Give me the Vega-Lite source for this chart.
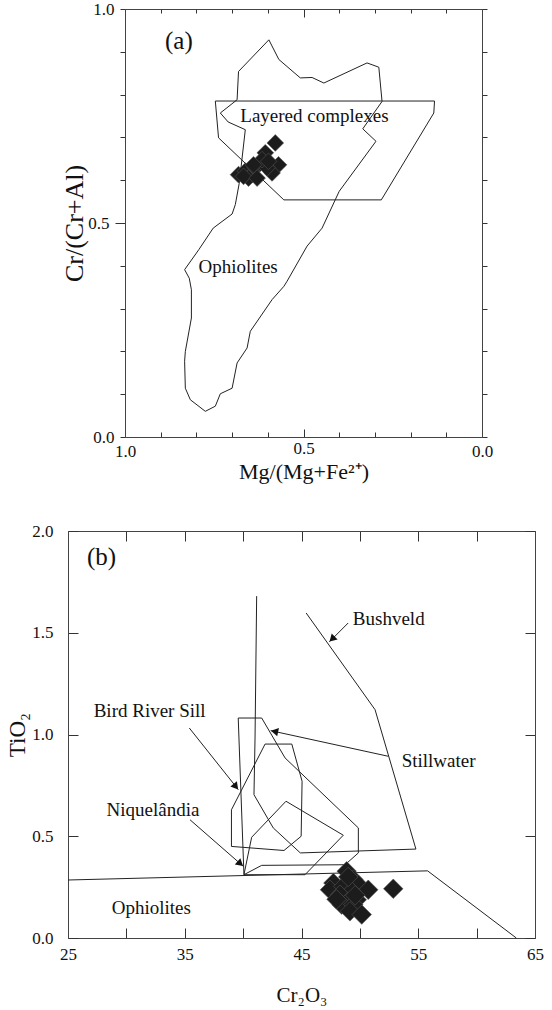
{
  "$schema": "https://vega.github.io/schema/vega-lite/v6.json",
  "background": "white",
  "padding": {"left": 6, "top": 0, "right": 5, "bottom": 5},
  "config": {
    "view": {"stroke": null},
    "font": "Liberation Serif",
    "axis": {
      "grid": false,
      "domainColor": "#444",
      "tickColor": "#333",
      "labelColor": "#111",
      "titleColor": "#111",
      "labelFont": "Liberation Serif",
      "titleFont": "Liberation Serif",
      "labelFontSize": 17,
      "titleFontSize": 20,
      "titleFontWeight": "normal",
      "labelFlush": false,
      "labelOverlap": false
    }
  },
  "datasets": {
    "a_fields": [
      {"field": "oph", "order": 1, "x": 0.597, "y": 0.928},
      {"field": "oph", "order": 2, "x": 0.569, "y": 0.882},
      {"field": "oph", "order": 3, "x": 0.509, "y": 0.839},
      {"field": "oph", "order": 4, "x": 0.476, "y": 0.840},
      {"field": "oph", "order": 5, "x": 0.443, "y": 0.827},
      {"field": "oph", "order": 6, "x": 0.322, "y": 0.874},
      {"field": "oph", "order": 7, "x": 0.289, "y": 0.864},
      {"field": "oph", "order": 8, "x": 0.280, "y": 0.784},
      {"field": "oph", "order": 9, "x": 0.334, "y": 0.720},
      {"field": "oph", "order": 10, "x": 0.297, "y": 0.691},
      {"field": "oph", "order": 11, "x": 0.400, "y": 0.574},
      {"field": "oph", "order": 12, "x": 0.448, "y": 0.488},
      {"field": "oph", "order": 13, "x": 0.490, "y": 0.446},
      {"field": "oph", "order": 14, "x": 0.546, "y": 0.364},
      {"field": "oph", "order": 15, "x": 0.555, "y": 0.352},
      {"field": "oph", "order": 16, "x": 0.588, "y": 0.321},
      {"field": "oph", "order": 17, "x": 0.649, "y": 0.247},
      {"field": "oph", "order": 18, "x": 0.658, "y": 0.208},
      {"field": "oph", "order": 19, "x": 0.686, "y": 0.173},
      {"field": "oph", "order": 20, "x": 0.700, "y": 0.114},
      {"field": "oph", "order": 21, "x": 0.733, "y": 0.101},
      {"field": "oph", "order": 22, "x": 0.747, "y": 0.072},
      {"field": "oph", "order": 23, "x": 0.775, "y": 0.060},
      {"field": "oph", "order": 24, "x": 0.817, "y": 0.087},
      {"field": "oph", "order": 25, "x": 0.831, "y": 0.114},
      {"field": "oph", "order": 26, "x": 0.833, "y": 0.177},
      {"field": "oph", "order": 27, "x": 0.831, "y": 0.200},
      {"field": "oph", "order": 28, "x": 0.814, "y": 0.278},
      {"field": "oph", "order": 29, "x": 0.814, "y": 0.344},
      {"field": "oph", "order": 30, "x": 0.820, "y": 0.371},
      {"field": "oph", "order": 31, "x": 0.833, "y": 0.391},
      {"field": "oph", "order": 32, "x": 0.793, "y": 0.438},
      {"field": "oph", "order": 33, "x": 0.753, "y": 0.488},
      {"field": "oph", "order": 34, "x": 0.700, "y": 0.521},
      {"field": "oph", "order": 35, "x": 0.691, "y": 0.543},
      {"field": "oph", "order": 36, "x": 0.680, "y": 0.593},
      {"field": "oph", "order": 37, "x": 0.663, "y": 0.718},
      {"field": "oph", "order": 38, "x": 0.711, "y": 0.736},
      {"field": "oph", "order": 39, "x": 0.733, "y": 0.757},
      {"field": "oph", "order": 40, "x": 0.686, "y": 0.788},
      {"field": "oph", "order": 41, "x": 0.682, "y": 0.854},
      {"field": "oph", "order": 42, "x": 0.597, "y": 0.928},
      {"field": "lay", "order": 1, "x": 0.747, "y": 0.785},
      {"field": "lay", "order": 2, "x": 0.133, "y": 0.785},
      {"field": "lay", "order": 3, "x": 0.135, "y": 0.757},
      {"field": "lay", "order": 4, "x": 0.282, "y": 0.554},
      {"field": "lay", "order": 5, "x": 0.555, "y": 0.554},
      {"field": "lay", "order": 6, "x": 0.738, "y": 0.699},
      {"field": "lay", "order": 7, "x": 0.747, "y": 0.785}
    ],
    "a_pts": [
      {"x": 0.579, "y": 0.687}, {"x": 0.607, "y": 0.664}, {"x": 0.570, "y": 0.636},
      {"x": 0.588, "y": 0.617}, {"x": 0.682, "y": 0.613}, {"x": 0.663, "y": 0.621},
      {"x": 0.644, "y": 0.613}, {"x": 0.635, "y": 0.629}, {"x": 0.621, "y": 0.640},
      {"x": 0.602, "y": 0.629}, {"x": 0.654, "y": 0.605}, {"x": 0.668, "y": 0.609},
      {"x": 0.616, "y": 0.648}, {"x": 0.598, "y": 0.644}, {"x": 0.630, "y": 0.605},
      {"x": 0.640, "y": 0.636}
    ],
    "a_text": [
      {"x": 0.677, "y": 0.75, "text": "Layered complexes"},
      {"x": 0.794, "y": 0.397, "text": "Ophiolites"}
    ],
    "a_letter": [{"x": 0.888, "y": 0.926, "text": "(a)"}],
    "b_fields": [
      {"field": "bush", "order": 1, "x": 45.40, "y": 1.597},
      {"field": "bush", "order": 2, "x": 51.30, "y": 1.122},
      {"field": "bush", "order": 3, "x": 54.80, "y": 0.437},
      {"field": "bush", "order": 4, "x": 44.90, "y": 0.418},
      {"field": "bush", "order": 5, "x": 42.58, "y": 0.541},
      {"field": "bush", "order": 6, "x": 40.93, "y": 0.704},
      {"field": "bush", "order": 7, "x": 41.02, "y": 0.983},
      {"field": "bush", "order": 8, "x": 41.16, "y": 1.680},
      {"field": "still", "order": 1, "x": 39.58, "y": 1.081},
      {"field": "still", "order": 2, "x": 41.59, "y": 1.081},
      {"field": "still", "order": 3, "x": 43.59, "y": 0.885},
      {"field": "still", "order": 4, "x": 49.87, "y": 0.541},
      {"field": "still", "order": 5, "x": 49.87, "y": 0.418},
      {"field": "still", "order": 6, "x": 48.73, "y": 0.360},
      {"field": "still", "order": 7, "x": 41.59, "y": 0.357},
      {"field": "still", "order": 8, "x": 40.07, "y": 0.311},
      {"field": "still", "order": 9, "x": 39.58, "y": 1.081},
      {"field": "brs", "order": 1, "x": 41.88, "y": 0.953},
      {"field": "brs", "order": 2, "x": 44.17, "y": 0.953},
      {"field": "brs", "order": 3, "x": 45.05, "y": 0.770},
      {"field": "brs", "order": 4, "x": 44.97, "y": 0.500},
      {"field": "brs", "order": 5, "x": 43.50, "y": 0.430},
      {"field": "brs", "order": 6, "x": 39.00, "y": 0.450},
      {"field": "brs", "order": 7, "x": 39.00, "y": 0.630},
      {"field": "brs", "order": 8, "x": 41.88, "y": 0.953},
      {"field": "niq", "order": 1, "x": 40.07, "y": 0.311},
      {"field": "niq", "order": 2, "x": 45.30, "y": 0.311},
      {"field": "niq", "order": 3, "x": 48.58, "y": 0.505},
      {"field": "niq", "order": 4, "x": 43.67, "y": 0.672},
      {"field": "niq", "order": 5, "x": 40.73, "y": 0.495},
      {"field": "niq", "order": 6, "x": 40.07, "y": 0.311},
      {"field": "oph", "order": 1, "x": 25.00, "y": 0.285},
      {"field": "oph", "order": 2, "x": 55.80, "y": 0.330},
      {"field": "oph", "order": 3, "x": 63.40, "y": 0.000}
    ],
    "b_arrows": [
      {"arrow": "bush", "order": 1, "x": 49.00, "y": 1.548},
      {"arrow": "bush", "order": 2, "x": 47.38, "y": 1.455},
      {"arrow": "still", "order": 1, "x": 52.43, "y": 0.893},
      {"arrow": "still", "order": 2, "x": 42.36, "y": 1.019},
      {"arrow": "brs", "order": 1, "x": 35.39, "y": 1.032},
      {"arrow": "brs", "order": 2, "x": 39.59, "y": 0.729},
      {"arrow": "niq", "order": 1, "x": 35.45, "y": 0.581},
      {"arrow": "niq", "order": 2, "x": 40.02, "y": 0.352}
    ],
    "b_heads": [
      {"x": 47.62, "y": 1.469, "angle": 225},
      {"x": 42.69, "y": 1.015, "angle": 282},
      {"x": 39.38, "y": 0.744, "angle": 141},
      {"x": 39.76, "y": 0.365, "angle": 131}
    ],
    "b_pts": [
      {"x": 48.87, "y": 0.328}, {"x": 47.73, "y": 0.270}, {"x": 47.44, "y": 0.237},
      {"x": 48.58, "y": 0.254}, {"x": 49.44, "y": 0.287}, {"x": 49.87, "y": 0.262},
      {"x": 50.72, "y": 0.237}, {"x": 49.30, "y": 0.229}, {"x": 48.30, "y": 0.213},
      {"x": 49.73, "y": 0.188}, {"x": 48.87, "y": 0.172}, {"x": 48.44, "y": 0.164},
      {"x": 49.44, "y": 0.164}, {"x": 49.15, "y": 0.131}, {"x": 50.16, "y": 0.115},
      {"x": 52.86, "y": 0.242}, {"x": 49.00, "y": 0.300}, {"x": 48.00, "y": 0.190},
      {"x": 49.60, "y": 0.210}
    ],
    "b_text": [
      {"x": 49.40, "y": 1.57, "text": "Bushveld"},
      {"x": 27.20, "y": 1.115, "text": "Bird River Sill"},
      {"x": 53.58, "y": 0.872, "text": "Stillwater"},
      {"x": 28.30, "y": 0.629, "text": "Niquelândia"},
      {"x": 28.74, "y": 0.147, "text": "Ophiolites"}
    ],
    "b_letter": [{"x": 26.63, "y": 1.87, "text": "(b)"}]
  },
  "spacing": 40,
  "vconcat": [
    {
      "spacing": -8,
      "hconcat": [
        {
          "width": 1,
          "height": 1,
          "data": {"values": [{"t": ""}]},
          "mark": {"type": "text"},
          "encoding": {"text": {"field": "t"}}
        },
        {
          "width": 357,
          "height": 428,
          "resolve": {"axis": {"x": "independent", "y": "independent"}},
          "layer": [
            {
              "data": {"name": "a_fields"},
              "mark": {"type": "line", "color": "#222", "strokeWidth": 1},
              "encoding": {
                "x": {
                  "field": "x", "type": "quantitative",
                  "scale": {"domain": [0, 1], "reverse": true, "nice": false, "zero": false},
                  "axis": {
                    "orient": "bottom",
                    "values": [0, 0.1, 0.2, 0.3, 0.4, 0.5, 0.6, 0.7, 0.8, 0.9, 1],
                    "tickSize": {"condition": {"test": "datum.value == 0.5", "value": -8}, "value": -5},
                    "labelExpr": "(datum.value == 0 || datum.value == 0.5 || datum.value == 1) ? format(datum.value, '.1f') : ''",
                    "labelPadding": 11,
                    "title": "Mg/(Mg+Fe²⁺)",
                    "titleFontSize": 22,
                    "titlePadding": 2
                  }
                },
                "y": {
                  "field": "y", "type": "quantitative",
                  "scale": {"domain": [0, 1], "nice": false, "zero": false},
                  "axis": {
                    "orient": "left",
                    "values": [0, 0.1, 0.2, 0.3, 0.4, 0.5, 0.6, 0.7, 0.8, 0.9, 1],
                    "tickSize": {"condition": {"test": "datum.value == 0.5", "value": 10}, "value": 5},
                    "labelExpr": "(datum.value == 0 || datum.value == 0.5 || datum.value == 1) ? format(datum.value, '.1f') : ''",
                    "labelPadding": 6,
                    "title": "Cr/(Cr+Al)",
                    "titleFontSize": 26,
                    "titlePadding": 0
                  }
                },
                "detail": {"field": "field"},
                "order": {"field": "order"}
              }
            },
            {
              "data": {"name": "a_pts"},
              "mark": {"type": "point", "shape": "diamond", "filled": true, "size": 280, "color": "#1c1c1c", "opacity": 1, "stroke": "#555", "strokeWidth": 0.6},
              "encoding": {
                "x": {
                  "field": "x", "type": "quantitative",
                  "axis": {
                    "orient": "top",
                    "values": [0, 0.1, 0.2, 0.3, 0.4, 0.5, 0.6, 0.7, 0.8, 0.9, 1],
                    "tickSize": {"condition": {"test": "datum.value == 0.5", "value": -8}, "value": -4},
                    "labels": false,
                    "title": null
                  }
                },
                "y": {
                  "field": "y", "type": "quantitative",
                  "axis": {
                    "orient": "right",
                    "values": [0, 0.1, 0.2, 0.3, 0.4, 0.5, 0.6, 0.7, 0.8, 0.9, 1],
                    "tickSize": 5,
                    "labels": false,
                    "title": null
                  }
                }
              }
            },
            {
              "data": {"name": "a_text"},
              "mark": {"type": "text", "fontSize": 19, "align": "left", "baseline": "middle", "font": "Liberation Serif", "color": "#111"},
              "encoding": {
                "x": {"field": "x", "type": "quantitative", "axis": null},
                "y": {"field": "y", "type": "quantitative", "axis": null},
                "text": {"field": "text"}
              }
            },
            {
              "data": {"name": "a_letter"},
              "mark": {"type": "text", "fontSize": 25, "align": "left", "baseline": "middle", "font": "Liberation Serif", "color": "#111"},
              "encoding": {
                "x": {"field": "x", "type": "quantitative", "axis": null},
                "y": {"field": "y", "type": "quantitative", "axis": null},
                "text": {"field": "text"}
              }
            }
          ]
        }
      ]
    },
    {
      "width": 467,
      "height": 407,
      "resolve": {"axis": {"x": "independent", "y": "independent"}},
      "layer": [
        {
          "data": {"name": "b_fields"},
          "mark": {"type": "line", "color": "#222", "strokeWidth": 1},
          "encoding": {
            "x": {
              "field": "x", "type": "quantitative",
              "scale": {"domain": [25, 65], "nice": false, "zero": false},
              "axis": {
                "orient": "bottom",
                "values": [25, 30, 35, 40, 45, 50, 55, 60, 65],
                "tickSize": -10,
                "labelExpr": "datum.value % 10 == 5 ? datum.label : ''",
                "labelPadding": 18,
                "title": "Cr₂O₃",
                "titleFontSize": 21,
                "titlePadding": 22
              }
            },
            "y": {
              "field": "y", "type": "quantitative",
              "scale": {"domain": [0, 2], "nice": false, "zero": false},
              "axis": {
                "orient": "left",
                "values": [0, 0.5, 1, 1.5, 2],
                "format": ".1f",
                "tickSize": -10,
                "labelPadding": 25,
                "title": "TiO₂",
                "titleFontSize": 23,
                "titlePadding": 2
              }
            },
            "detail": {"field": "field"},
            "order": {"field": "order"}
          }
        },
        {
          "data": {"name": "b_arrows"},
          "mark": {"type": "line", "color": "#222", "strokeWidth": 1},
          "encoding": {
            "x": {
              "field": "x", "type": "quantitative",
              "axis": {
                "orient": "top",
                "values": [25, 30, 35, 40, 45, 50, 55, 60, 65],
                "tickSize": -10,
                "labels": false,
                "title": null
              }
            },
            "y": {
              "field": "y", "type": "quantitative",
              "axis": {
                "orient": "right",
                "values": [0, 0.5, 1, 1.5, 2],
                "tickSize": -10,
                "labels": false,
                "title": null
              }
            },
            "detail": {"field": "arrow"},
            "order": {"field": "order"}
          }
        },
        {
          "data": {"name": "b_heads"},
          "mark": {"type": "point", "shape": "triangle-up", "filled": true, "size": 70, "color": "#111", "opacity": 1},
          "encoding": {
            "x": {"field": "x", "type": "quantitative", "axis": null},
            "y": {"field": "y", "type": "quantitative", "axis": null},
            "angle": {"field": "angle", "type": "quantitative", "scale": null}
          }
        },
        {
          "data": {"name": "b_pts"},
          "mark": {"type": "point", "shape": "diamond", "filled": true, "size": 380, "color": "#1c1c1c", "opacity": 1, "stroke": "#555", "strokeWidth": 0.6},
          "encoding": {
            "x": {"field": "x", "type": "quantitative", "axis": null},
            "y": {"field": "y", "type": "quantitative", "axis": null}
          }
        },
        {
          "data": {"name": "b_text"},
          "mark": {"type": "text", "fontSize": 19, "align": "left", "baseline": "middle", "font": "Liberation Serif", "color": "#111"},
          "encoding": {
            "x": {"field": "x", "type": "quantitative", "axis": null},
            "y": {"field": "y", "type": "quantitative", "axis": null},
            "text": {"field": "text"}
          }
        },
        {
          "data": {"name": "b_letter"},
          "mark": {"type": "text", "fontSize": 25, "align": "left", "baseline": "middle", "font": "Liberation Serif", "color": "#111"},
          "encoding": {
            "x": {"field": "x", "type": "quantitative", "axis": null},
            "y": {"field": "y", "type": "quantitative", "axis": null},
            "text": {"field": "text"}
          }
        }
      ]
    }
  ]
}
